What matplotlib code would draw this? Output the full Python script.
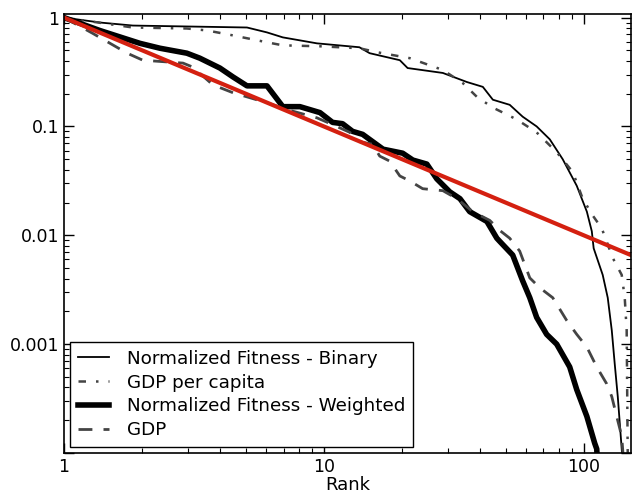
import numpy as np
import matplotlib
matplotlib.use('Agg')
from matplotlib import pyplot as plt
from matplotlib.ticker import FixedLocator, FixedFormatter, LogLocator, NullFormatter

# Normalized Fitness - Binary
bin_rank = [1, 1.38, 1.84, 5.06, 6.04, 6.95, 9.4, 13.7, 15.0, 19.6, 21.0, 28.7, 35.5,
            40.9, 44.7, 51.9, 58.2, 65.9, 74.0, 83.0, 94.0, 102.8, 107.4, 109.2, 118.3,
            123.7, 128.2, 131.6, 135.2, 140, 142]
bin_val = [1, 0.9, 0.845, 0.811, 0.731, 0.658, 0.58, 0.534, 0.471, 0.406, 0.344, 0.31,
           0.256, 0.231, 0.176, 0.158, 0.123, 0.1, 0.0762, 0.05, 0.0285, 0.0165, 0.0109,
           0.0076, 0.00433, 0.00267, 0.00134, 0.00066, 0.00033, 0.000109, 0.00007]

# GDP per capita
gdppc_rank = [1, 1.84, 2.97, 3.55, 4.47, 6.04, 6.95, 9.66, 13.7, 16.0, 21.4, 28.7, 34.2,
              38.8, 44.7, 55.2, 65.9, 78.7, 90.7, 99.1, 108.3, 117.3, 129.3, 140, 143.8,
              146.3, 147.6, 148]
gdppc_val = [1, 0.811, 0.794, 0.762, 0.686, 0.593, 0.556, 0.545, 0.523, 0.481, 0.424, 0.33,
             0.251, 0.187, 0.149, 0.116, 0.0881, 0.058, 0.0382, 0.0217, 0.0152, 0.0116,
             0.0062, 0.00433, 0.00267, 0.00134, 0.000109, 0.00007]

# Normalized Fitness - Weighted
w_rank = [1, 1.376, 1.96, 2.34, 2.97, 3.33, 3.98, 4.47, 5.06, 6.04, 6.95, 8.09, 9.66, 10.8,
          11.8, 12.9, 14.1, 16.9, 20.1, 22.0, 24.9, 27.2, 30.5, 33.4, 36.4, 42.4, 46.3, 47.5,
          53.3, 58.2, 62.0, 65.9, 72.0, 78.7, 88.3, 94.0, 102.8, 110.2, 112.2, 113]
w_val = [1, 0.76, 0.58, 0.523, 0.471, 0.424, 0.344, 0.285, 0.236, 0.236, 0.152, 0.152, 0.134,
         0.109, 0.106, 0.0901, 0.0846, 0.0618, 0.0568, 0.0491, 0.0451, 0.033, 0.0251, 0.0217,
         0.0165, 0.0134, 0.0094, 0.0088, 0.00658, 0.00382, 0.00267, 0.00176, 0.00123, 0.001,
         0.000618, 0.000382, 0.000217, 0.000123, 0.000109, 0.00008]

# GDP
gdp_rank = [1, 1.29, 1.75, 2.01, 2.87, 3.13, 3.74, 4.47, 6.04, 7.2, 9.4, 10.8, 12.6, 13.5,
            15.4, 16.4, 17.9, 19.6, 21.4, 24.0, 28.7, 32.5, 37.4, 43.5, 47.5, 51.9, 56.7,
            62.0, 67.7, 76.0, 86.0, 94.0, 102.8, 112.2, 122.5, 128.2, 133.9, 140, 142]
gdp_val = [1, 0.716, 0.471, 0.406, 0.382, 0.351, 0.241, 0.204, 0.165, 0.143, 0.12, 0.104,
           0.0881, 0.0731, 0.0686, 0.0534, 0.0481, 0.0351, 0.0316, 0.0268, 0.0257, 0.0217,
           0.0165, 0.0137, 0.0111, 0.0094, 0.00716, 0.00406, 0.0033, 0.00267, 0.00165,
           0.00123, 0.00094, 0.000618, 0.000433, 0.00033, 0.000217, 0.000143, 0.00009]

# power law reference line (slope -1)
fit_rank = [1, 152]
fit_val = [1, 1 / 152.0]

yticks = [1, 0.1, 0.01, 0.001]
ytick_labels = ['1', '0.1', '0.01', '0.001']
xticks = [1, 10, 100]
xtick_labels = ['1', '10', '100']

fig = plt.figure(figsize=(6.32, 4.97), dpi=100)
ax = fig.add_axes([0.1013, 0.0885, 0.8971, 0.8843])

ax.plot(bin_rank, bin_val, '-', color='black', lw=1.3, label='Normalized Fitness - Binary')
ax.plot(gdppc_rank, gdppc_val, color='#444444', lw=1.8, linestyle=(0, (3, 4, 1, 4)),
        label='GDP per capita')
ax.plot(w_rank, w_val, '-', color='black', lw=4, label='Normalized Fitness - Weighted')
ax.plot(gdp_rank, gdp_val, '--', color='#444444', lw=2, dashes=(5, 4), label='GDP')
ax.plot(fit_rank, fit_val, '-', color='#d42010', lw=3)

ax.set_xscale('log')
ax.set_yscale('log')
ax.set_xlim(1, 152)
ax.set_ylim(1e-4, 1.09)

ax.xaxis.set_major_locator(FixedLocator(xticks))
ax.xaxis.set_major_formatter(FixedFormatter(xtick_labels))
ax.yaxis.set_major_locator(FixedLocator(yticks + [1e-4]))
ax.yaxis.set_major_formatter(FixedFormatter(ytick_labels + ['']))
ax.xaxis.set_minor_locator(LogLocator(base=10, subs=np.arange(2, 10)))
ax.yaxis.set_minor_locator(LogLocator(base=10, subs=np.arange(2, 10)))
ax.xaxis.set_minor_formatter(NullFormatter())
ax.yaxis.set_minor_formatter(NullFormatter())

ax.tick_params(which='both', direction='in', top=True, right=True, labelsize=12.5)
ax.tick_params(which='major', length=7, width=1)
ax.tick_params(which='minor', length=3.5, width=0.8)
for s in ax.spines.values():
    s.set_linewidth(1.2)

ax.set_xlabel('Rank', fontsize=13, labelpad=0)

leg = ax.legend(loc='lower left', fontsize=13.2, fancybox=False, framealpha=1,
                edgecolor='black', handlelength=1.7, handletextpad=1.0,
                borderaxespad=0.35, labelspacing=0.32, borderpad=0.4)
leg.get_frame().set_linewidth(1.0)

fig.savefig('out.png', dpi=100)
